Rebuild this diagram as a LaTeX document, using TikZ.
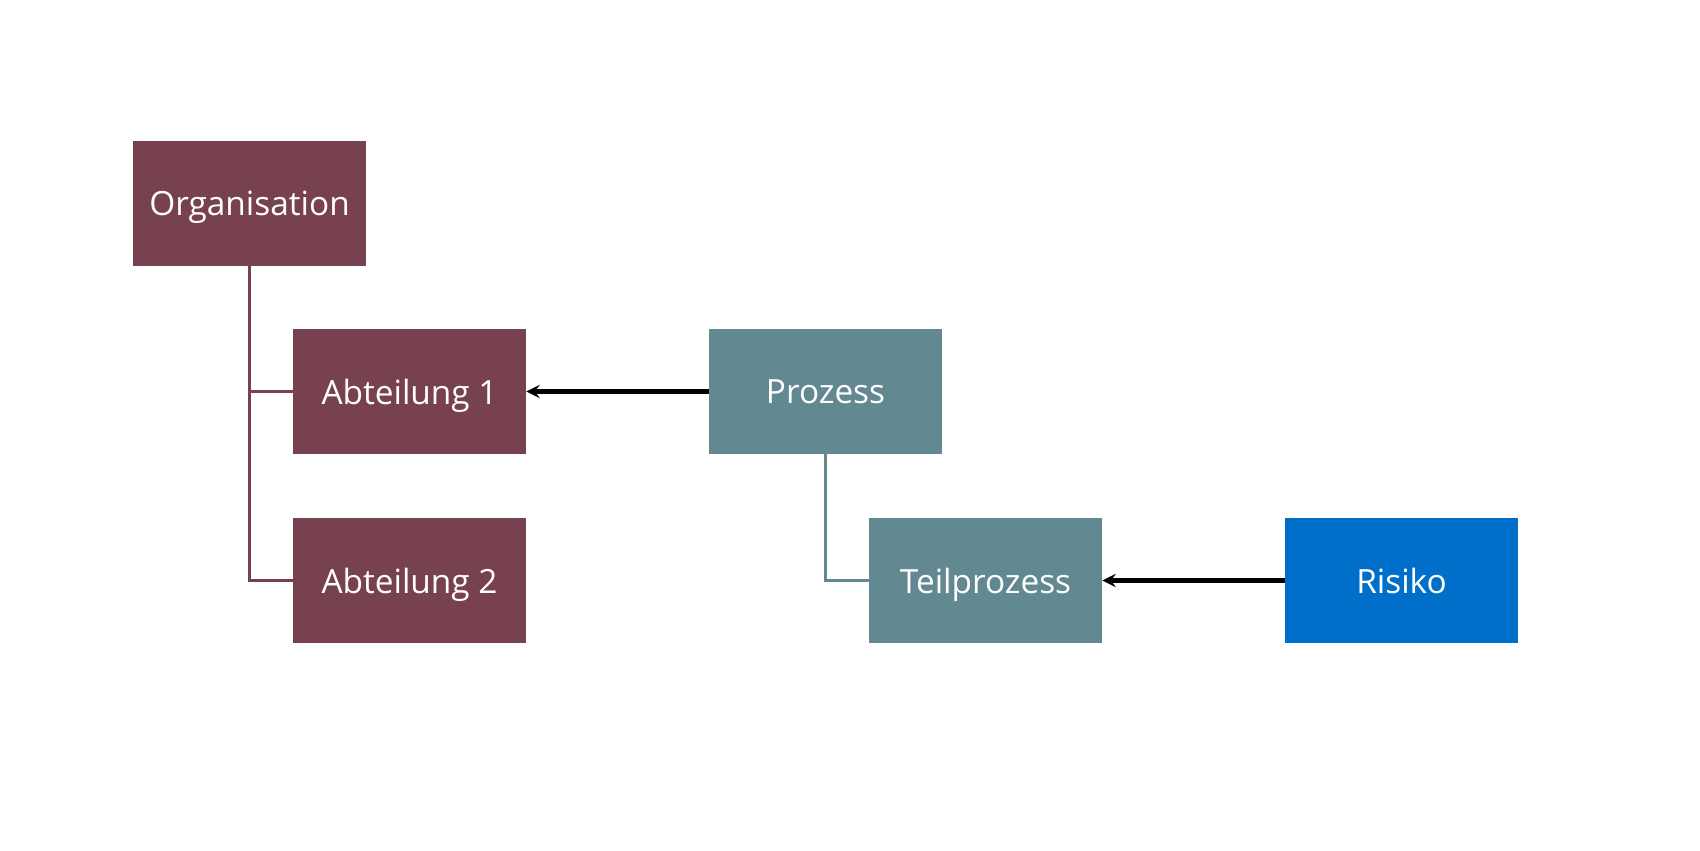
\documentclass[tikz,border=0pt]{standalone}
\usepackage{fontspec}
\setmainfont{Open Sans}
\usetikzlibrary{calc}

\definecolor{orgred}{HTML}{784150}
\definecolor{prozteal}{HTML}{628891}
\definecolor{riskblue}{HTML}{006FC9}

\begin{document}
\begin{tikzpicture}[>=stealth,x=0.02cm,y=-0.02cm,
       box/.style={rectangle,minimum width=4.66cm,minimum height=2.5cm,
                   inner sep=0pt,text depth=0pt,text=white,
                   font=\fontsize{19}{23}\selectfont},
       orgline/.style={orgred,line width=2.2pt},
       prozline/.style={prozteal,line width=2.2pt},
       link/.style={->,black,line width=2.3pt}]
       \useasboundingbox (0,0) rectangle (1700,850);
       \node (org) at (249.5,203.5) [box,fill=orgred]{Organisation};
       \node (abt1) at (409.5,391.5) [box,fill=orgred]{Abteilung 1};
       \node (abt2) at (409.5,580.5) [box,fill=orgred]{Abteilung 2};
       \node (proz) at (825.5,391.5) [box,fill=prozteal]{Prozess};
       \node (teil) at (985.5,580.5) [box,fill=prozteal]{Teilprozess};
       \node (risk) at (1401.5,580.5) [box,fill=riskblue]{Risiko};
       \draw [orgline] (org.south) |- (abt2.west);
       \draw [orgline] (org.south |- abt1.west) -- (abt1.west);
       \draw [prozline] (proz.south) |- (teil.west);
       \draw [link] (proz.west) -- (abt1.east);
       \draw [link] (risk.west) -- (teil.east);
     \end{tikzpicture}
\end{document}
